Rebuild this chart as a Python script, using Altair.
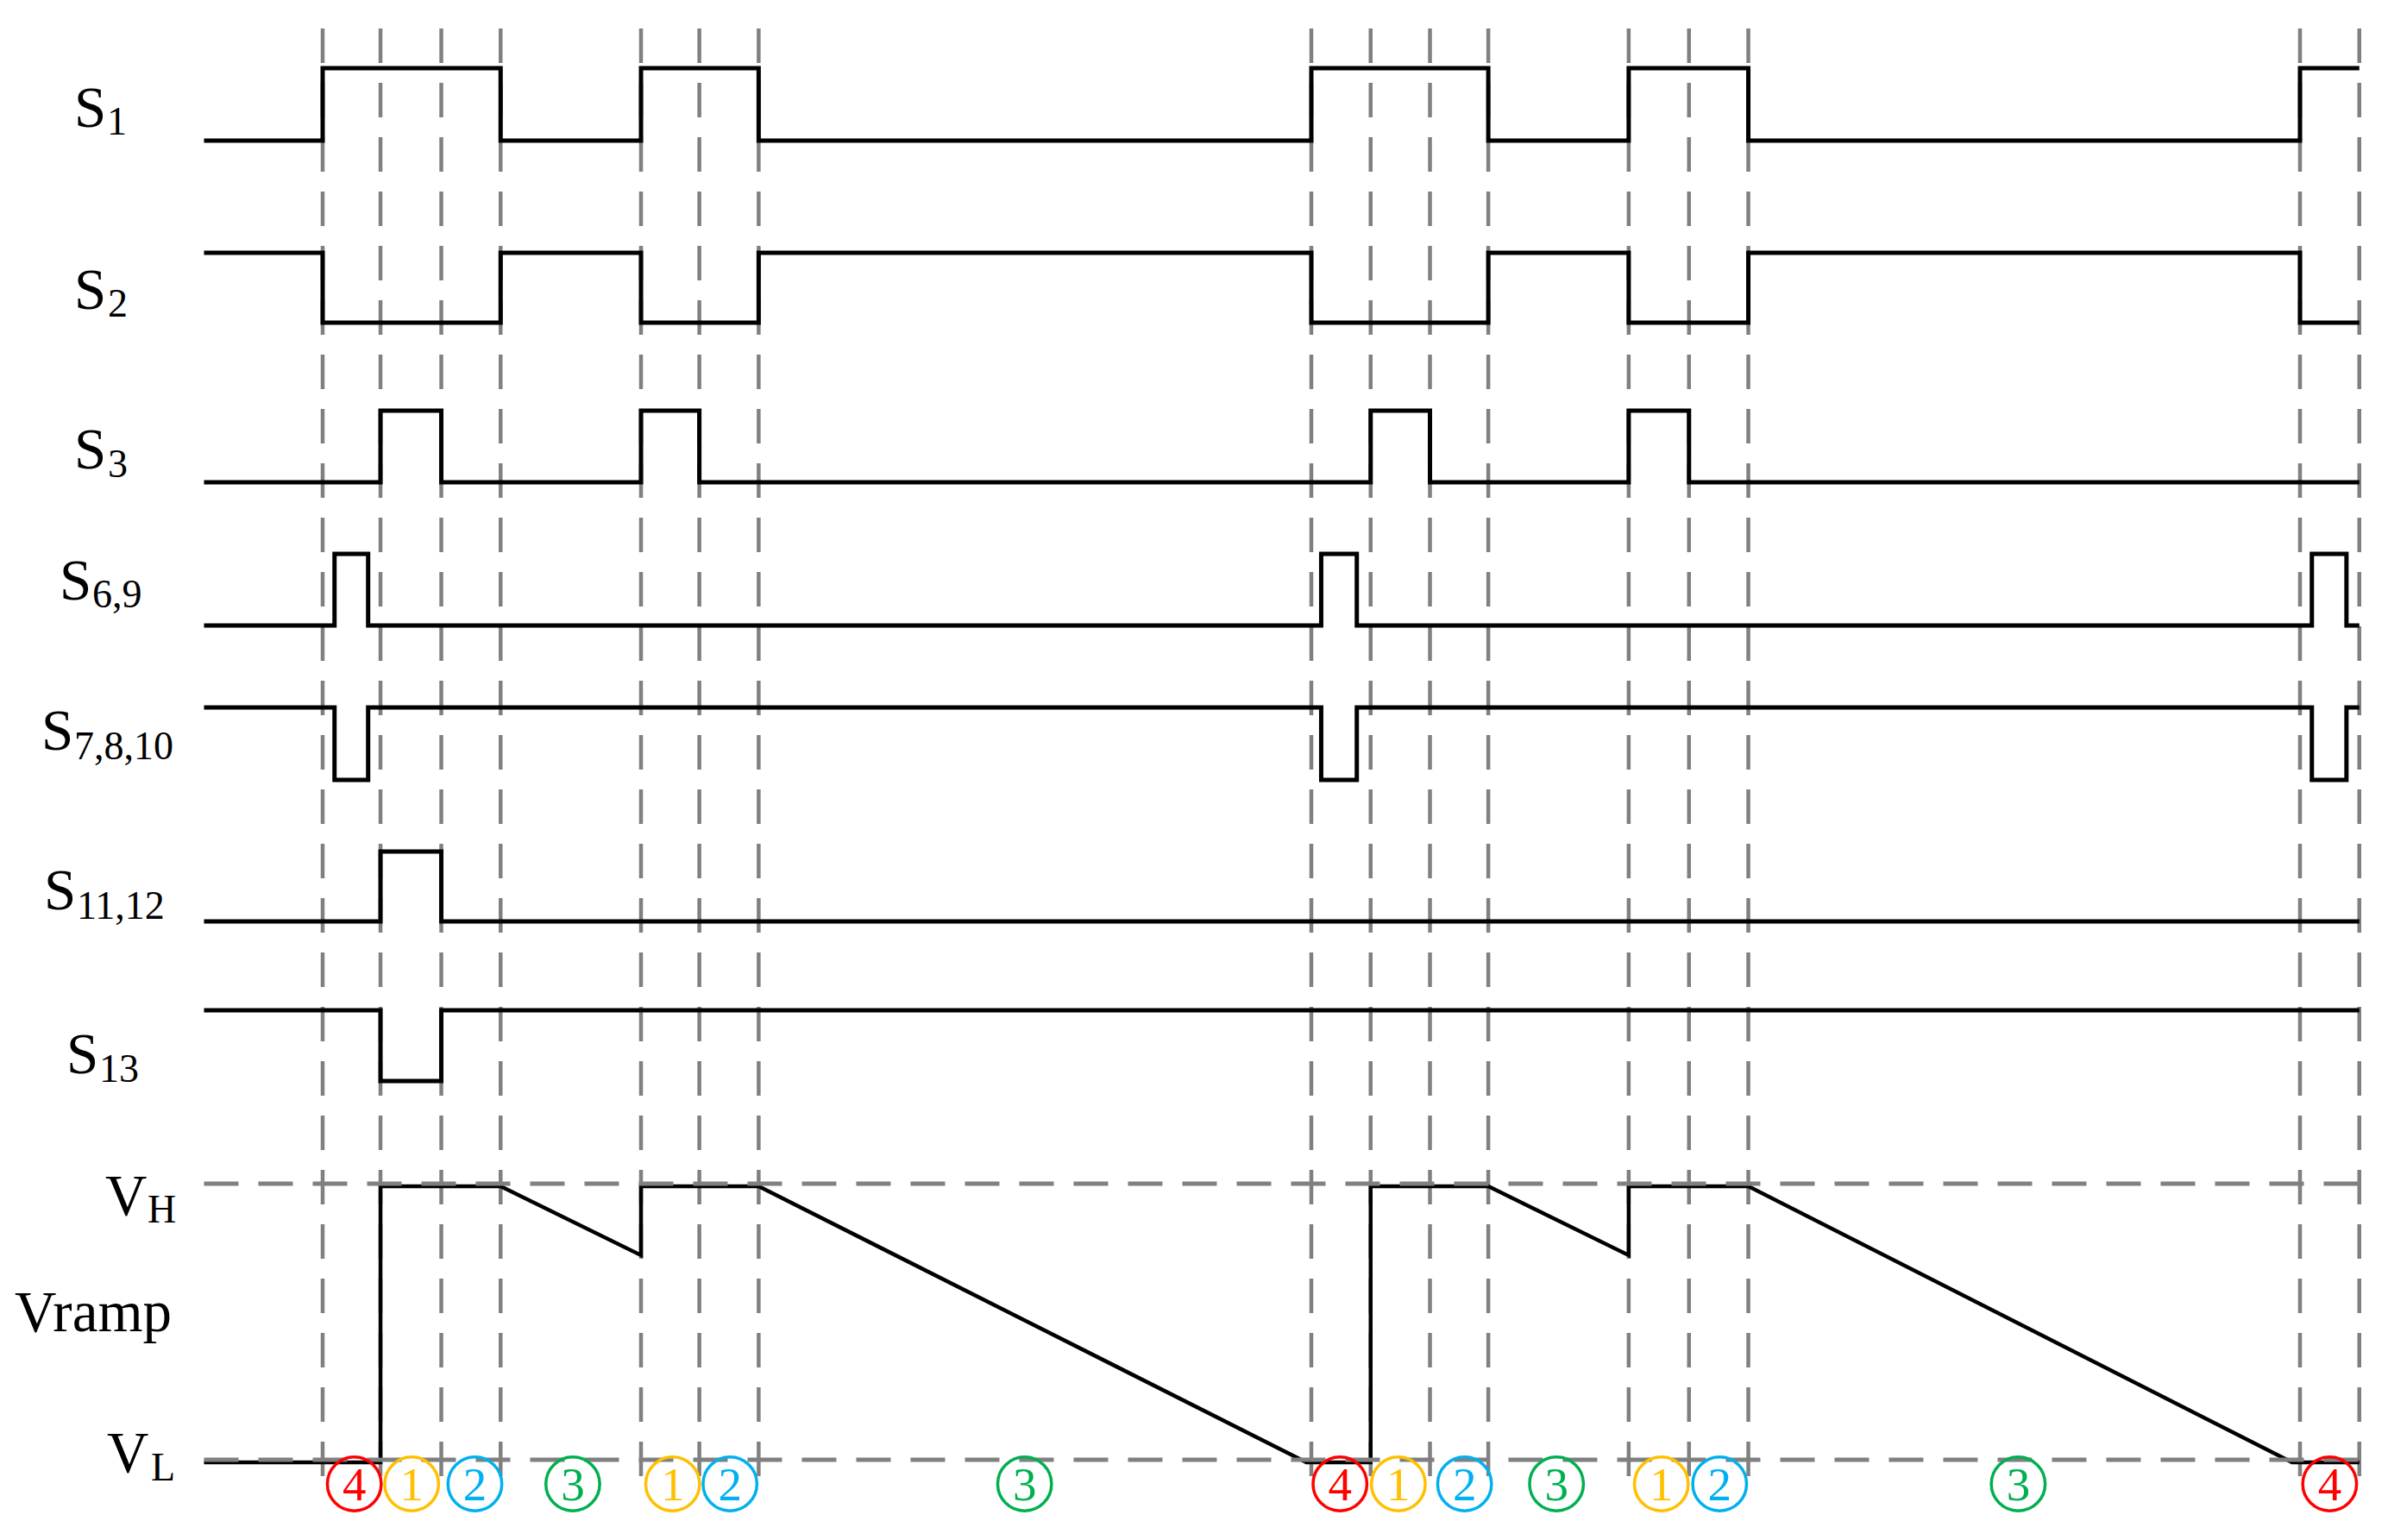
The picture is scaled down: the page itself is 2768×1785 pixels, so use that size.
import altair as alt
import pandas as pd

# ---------------- data ----------------
# time unit: one switching period = 100
T_START = -12.0
T_END = 206.0
edge_times = [0.0, 5.85, 12.0, 18.0, 32.2, 38.1, 44.1, 100.0, 106.0, 112.0,
              117.9, 132.1, 138.2, 144.2, 200.0, 206.0]

s1_toggles = [0.0, 18.0, 32.2, 44.1, 100.0, 117.9, 132.1, 144.2, 200.0]
s3_toggles = [5.85, 12.0, 32.2, 38.1, 106.0, 112.0, 132.1, 138.2]
s69_toggles = [1.2, 4.6, 101.0, 104.6, 201.2, 204.7]
s1112_toggles = [5.85, 12.0]

signal_names = ["S1", "S2", "S3", "S6,9", "S7,8,10", "S11,12", "S13"]
signal_start = [0, 1, 0, 0, 1, 0, 1]
signal_toggles = [s1_toggles, s1_toggles, s3_toggles, s69_toggles,
                  s69_toggles, s1112_toggles, s1112_toggles]

# Vramp (0 = VL, 1 = VH)
ramp_t = [-12.0, 5.85, 5.85, 18.0, 32.2, 32.2, 44.1, 99.5, 106.0, 106.0,
          117.9, 132.1, 132.1, 144.2, 199.2, 206.0]
ramp_v = [0, 0, 1, 1, 0.75, 1, 1, 0, 0, 1, 1, 0.75, 1, 1, 0, 0]

# circled interval numbers
mode_t = [3.2, 9.0, 15.4, 25.3, 35.4, 41.2, 71.0, 102.9, 108.8, 115.5,
          124.8, 135.4, 141.3, 171.5, 203.0]
mode_num = ["4", "1", "2", "3", "1", "2", "3", "4", "1", "2", "3", "1", "2",
            "3", "4"]
mode_colors = ["#ffc000", "#00b0f0", "#00b050", "#ff0000"]  # for 1,2,3,4

# ---------------- layout ----------------
W, H = 2752, 1769
PX_PER_T = 11.46
T0_PAGE = 374.0
x_dom = [(8 - T0_PAGE) / PX_PER_T, (8 + W - T0_PAGE) / PX_PER_T]
xs = alt.Scale(domain=x_dom, nice=False, zero=False)
ys = alt.Scale(domain=[8, 8 + H], reverse=True, nice=False, zero=False)

lane_low = [163, 374, 559, 725, 904, 1068, 1253]
lane_high = [79, 293, 476, 642, 820, 987, 1171]
VL_Y, VH_Y = 1695, 1375
VL_DASH, VH_DASH = 1692, 1372

rows = []
for i, name in enumerate(signal_names):
    lvl = signal_start[i]
    pts = [(T_START, lvl)]
    for t in signal_toggles[i]:
        pts.append((t, lvl))
        lvl = 1 - lvl
        pts.append((t, lvl))
    pts.append((T_END, lvl))
    for k, (t, l) in enumerate(pts):
        y = lane_low[i] + l * (lane_high[i] - lane_low[i])
        rows.append({"sig": name, "t": t, "y": y, "k": k})
sig_df = pd.DataFrame(rows)

ramp_df = pd.DataFrame({
    "t": ramp_t,
    "y": [VL_Y + v * (VH_Y - VL_Y) for v in ramp_v],
    "k": list(range(len(ramp_t))),
})

edge_df = pd.DataFrame({"t": edge_times, "y0": [33] * len(edge_times),
                        "y1": [1712] * len(edge_times)})
hline_df = pd.DataFrame({"y": [VH_DASH, VL_DASH], "t0": [T_START, T_START],
                         "t1": [206.2, 206.2]})
mode_df = pd.DataFrame({"t": mode_t, "n": mode_num,
                        "yc": [1720] * len(mode_t), "yt": [1739] * len(mode_t)})

FONT = "Liberation Serif"
DASH = [40, 23]
GRAY = "#808080"

X = alt.X("t:Q", scale=xs, axis=None)

signals = alt.Chart(sig_df).mark_line(
    color="black", strokeWidth=5, strokeJoin="miter"
).encode(
    x=X,
    y=alt.Y("y:Q", scale=ys, axis=None),
    detail="sig:N",
    order="k:Q",
)

ramp = alt.Chart(ramp_df).mark_line(
    color="black", strokeWidth=4.5, strokeJoin="miter"
).encode(
    x=X,
    y=alt.Y("y:Q", scale=ys, axis=None),
    order="k:Q",
)

vdash = alt.Chart(edge_df).mark_rule(
    color=GRAY, strokeWidth=4.5, strokeDash=DASH
).encode(
    x=X,
    y=alt.Y("y0:Q", scale=ys, axis=None),
    y2="y1:Q",
)

hdash = alt.Chart(hline_df).mark_rule(
    color=GRAY, strokeWidth=5, strokeDash=DASH
).encode(
    y=alt.Y("y:Q", scale=ys, axis=None),
    x=alt.X("t0:Q", scale=xs, axis=None),
    x2="t1:Q",
)

cscale = alt.Scale(domain=["1", "2", "3", "4"], range=mode_colors)
circles = alt.Chart(mode_df).mark_point(
    shape="circle", size=3900, filled=False, strokeWidth=3.5, opacity=1
).encode(
    x=X,
    y=alt.Y("yc:Q", scale=ys, axis=None),
    color=alt.Color("n:N", scale=cscale, legend=None),
)
digits = alt.Chart(mode_df).mark_text(
    font=FONT, fontSize=55, baseline="alphabetic", align="center"
).encode(
    x=X,
    y=alt.Y("yt:Q", scale=ys, axis=None),
    text="n:N",
    color=alt.Color("n:N", scale=cscale, legend=None),
)

# labels: main, subscript, main left x, sub left x, main baseline, sub baseline (page px)
labels = [
    ("S", "1", 86, 124, 147, 156),
    ("S", "2", 86, 125, 358, 367),
    ("S", "3", 86, 125, 543, 553),
    ("S", "6,9", 69, 107, 695, 704),
    ("S", "7,8,10", 48, 86, 869, 880),
    ("S", "11,12", 51, 89, 1054, 1065),
    ("S", "13", 77, 115, 1244, 1254),
    ("V", "H", 122, 171, 1408, 1417),
    ("Vramp", "", 17, 0, 1543, 0),
    ("V", "L", 124, 175, 1706, 1716),
]
main_rows, sub_rows = [], []
for main, sub, mx, sx, mb, sb in labels:
    main_rows.append({"txt": main, "px": mx - 8, "py": mb - 8})
    if sub:
        sub_rows.append({"txt": sub, "px": sx - 8, "py": sb - 8})
main_df = pd.DataFrame(main_rows)
sub_df = pd.DataFrame(sub_rows)

main_text = alt.Chart(main_df).mark_text(
    font=FONT, fontSize=67, align="left", baseline="alphabetic", color="black"
).encode(
    x=alt.X("px:Q", scale=None, axis=None),
    y=alt.Y("py:Q", scale=None, axis=None),
    text="txt:N",
)
sub_text = alt.Chart(sub_df).mark_text(
    font=FONT, fontSize=46, align="left", baseline="alphabetic", color="black"
).encode(
    x=alt.X("px:Q", scale=None, axis=None),
    y=alt.Y("py:Q", scale=None, axis=None),
    text="txt:N",
)

chart = alt.layer(
    vdash, signals, ramp, hdash, circles, digits, main_text, sub_text
).resolve_scale(x="independent", y="independent").properties(
    width=W, height=H,
    autosize=alt.AutoSizeParams(type="none"),
    padding=0,
).configure_view(strokeWidth=0)

chart.save("out.html", embed_options={"renderer": "svg", "actions": False})
